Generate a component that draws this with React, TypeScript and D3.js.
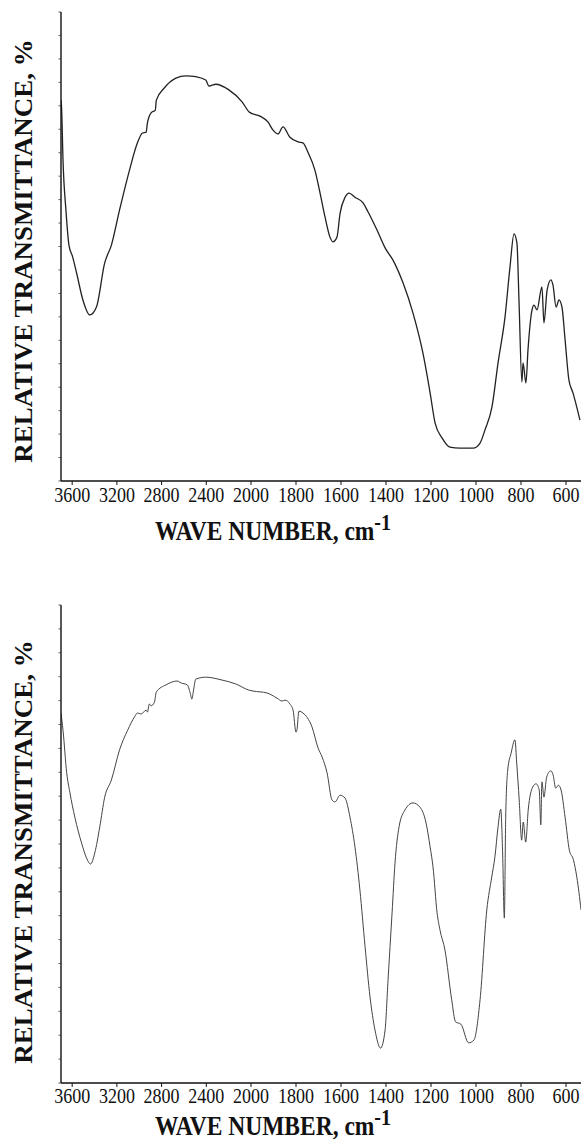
import React from "react";
import * as d3 from "d3";

const tickValues = [3600, 3200, 2800, 2400, 2000, 1800, 1600, 1400, 1200, 1000, 800, 600];

const wave1 = [3700, 3694, 3682, 3656, 3629, 3596, 3560, 3504, 3442, 3383, 3309, 3249, 3176, 3087, 3016, 2971, 2938, 2927, 2894, 2856, 2847, 2776, 2672, 2583, 2494, 2405, 2376, 2349, 2316, 2198, 2082, 2012, 1960, 1924, 1902, 1880, 1858, 1827, 1791, 1769, 1747, 1716, 1693, 1671, 1649, 1636, 1618, 1604, 1582, 1564, 1538, 1502, 1480, 1440, 1404, 1369, 1324, 1280, 1236, 1204, 1182, 1151, 1116, 1072, 1013, 982, 960, 929, 902, 871, 849, 831, 818, 809, 796, 791, 778, 769, 751, 742, 729, 707, 698, 684, 667, 658, 644, 631, 618, 604, 587, 569, 538];
const trans1 = [81.2, 79.1, 68.4, 57.8, 50.3, 47.8, 44.3, 38.6, 35.4, 37.1, 46.5, 50.3, 57.8, 66.3, 72.1, 74.2, 74.4, 76.3, 78.5, 79.1, 81.2, 83.8, 85.9, 86.4, 86.2, 85.5, 84.2, 84.4, 84.6, 83.4, 80.9, 78.6, 77.8, 76.5, 74.8, 74.0, 75.5, 73.3, 72.3, 72.1, 70.1, 66.3, 61.4, 56.3, 52.0, 51.0, 52.0, 57.1, 60.5, 61.4, 60.5, 59.3, 57.4, 53.5, 49.7, 47.1, 42.2, 35.8, 27.3, 18.8, 12.4, 9.2, 7.2, 7.0, 7.0, 8.1, 10.9, 15.8, 25.2, 35.0, 45.6, 52.7, 50.7, 38.6, 21.1, 25.2, 20.9, 27.9, 36.5, 37.5, 36.5, 41.4, 33.7, 40.7, 42.9, 41.8, 37.1, 38.6, 37.1, 30.1, 21.5, 18.8, 13.0];

const wave2 = [3700, 3682, 3649, 3620, 3576, 3516, 3472, 3436, 3398, 3353, 3309, 3249, 3176, 3104, 3042, 3016, 2983, 2938, 2927, 2909, 2894, 2864, 2847, 2760, 2660, 2627, 2571, 2544, 2529, 2518, 2494, 2405, 2260, 2138, 2020, 1991, 1929, 1884, 1862, 1849, 1827, 1813, 1800, 1796, 1787, 1769, 1729, 1702, 1684, 1662, 1640, 1627, 1604, 1582, 1560, 1538, 1516, 1493, 1471, 1449, 1424, 1404, 1391, 1373, 1360, 1342, 1316, 1280, 1249, 1222, 1204, 1191, 1173, 1160, 1138, 1108, 1091, 1067, 1033, 1009, 982, 952, 930, 916, 902, 890, 882, 874, 868, 859, 844, 827, 819, 808, 797, 790, 779, 768, 748, 733, 719, 712, 707, 698, 686, 668, 657, 646, 634, 622, 604, 585, 567, 552, 533];
const trans2 = [77.4, 73.8, 64.9, 60.7, 55.6, 50.2, 47.1, 45.8, 48.1, 53.6, 59.8, 63.4, 69.7, 73.8, 76.6, 77.4, 77.2, 78.0, 77.6, 79.3, 78.9, 79.7, 81.8, 83.3, 84.1, 83.7, 83.3, 81.6, 80.3, 81.6, 84.5, 84.9, 84.3, 83.5, 82.2, 82.0, 81.6, 80.5, 79.9, 80.1, 79.3, 78.0, 73.4, 73.8, 77.8, 77.4, 74.5, 70.1, 68.2, 64.9, 59.2, 58.8, 60.2, 59.6, 55.6, 49.4, 40.4, 28.5, 18.0, 11.1, 7.3, 11.1, 21.5, 35.6, 46.0, 53.6, 57.1, 58.6, 57.7, 54.4, 49.4, 45.2, 35.6, 32.0, 27.8, 17.4, 12.8, 12.3, 8.4, 9.0, 17.4, 36.2, 43.1, 47.3, 53.6, 57.3, 48.7, 34.5, 55.6, 65.5, 69.0, 71.8, 66.9, 59.2, 50.8, 54.6, 50.4, 57.1, 61.9, 62.6, 61.3, 54.0, 63.0, 59.8, 64.0, 65.3, 64.4, 61.7, 62.3, 61.3, 55.6, 48.7, 46.7, 43.1, 36.2];

const yTicks = d3.range(0, 101, 5);

const W = 581;
const H = 1145;
const FONT = "'Liberation Serif', 'Times New Roman', serif";

type PanelProps = {
  top: number;
  bottom: number;
  waves: number[];
  values: number[];
  stroke: string;
  strokeWidth: number;
  xLabelY: number;
  tickLabelY: number;
  yLabelCenter: number;
};

function Panel({ top, bottom, waves, values, stroke, strokeWidth, xLabelY, tickLabelY, yLabelCenter }: PanelProps) {
  const left = 61;
  const x = d3.scaleLinear().domain([3700, 2000, 500]).range([left, 251, 588.5]);
  const y = d3.scaleLinear().domain([0, 100]).range([bottom, top]);
  const pts = waves.map((w, i) => [x(w), y(values[i])] as [number, number]);
  const line = d3.line<[number, number]>().x((d) => d[0]).y((d) => d[1]).curve(d3.curveMonotoneX);
  return (
    <g>
      <defs>
        <clipPath id={`clip${top}`}>
          <rect x={left} y={top - 5} width={W - left} height={bottom - top + 5} />
        </clipPath>
      </defs>
      <path d={line(pts) || ""} fill="none" stroke={stroke} strokeWidth={strokeWidth} clipPath={`url(#clip${top})`} strokeLinejoin="round" />
      <line x1={left} x2={left} y1={top} y2={bottom} stroke="#111" strokeWidth={1.4} />
      <line x1={left} x2={W} y1={bottom} y2={bottom} stroke="#111" strokeWidth={1.4} />
      {yTicks.map((t) => (
        <line key={t} x1={left - 2.5} x2={left} y1={y(t)} y2={y(t)} stroke="#333" strokeWidth={0.8} />
      ))}
      {tickValues.map((t) => (
        <g key={t}>
          <line x1={x(t)} x2={x(t)} y1={bottom} y2={bottom + 4} stroke="#111" strokeWidth={1} />
          <text transform={`translate(${x(t)},${tickLabelY}) scale(0.9,1)`} textAnchor="middle" fontFamily={FONT} fontSize={20} fill="#111">
            {t}
          </text>
        </g>
      ))}
      <text transform={`translate(273,${xLabelY}) scale(0.87,1)`} textAnchor="middle" fontFamily={FONT} fontSize={27} fontWeight="bold" fill="#111">
        WAVE NUMBER, cm
        <tspan fontSize={23} dy={-10}>-1</tspan>
      </text>
      <text
        transform={`translate(32,${yLabelCenter}) rotate(-90) scale(1,0.9)`}
        textAnchor="middle"
        fontFamily={FONT}
        fontSize={27}
        fontWeight="bold"
        fill="#111"
      >
        RELATIVE TRANSMITTANCE, %
      </text>
    </g>
  );
}

export default function App() {
  return (
    <div style={{ position: "absolute", left: 0, top: 0 }}>
      <svg width={W} height={H} viewBox={`0 0 ${W} ${H}`} style={{ display: "block", background: "#fff" }}>
        <rect width={W} height={H} fill="#fff" />
        <Panel top={12} bottom={481} waves={wave1} values={trans1} stroke="#222" strokeWidth={1.3} xLabelY={540} tickLabelY={502} yLabelCenter={251} />
        <Panel top={605} bottom={1083} waves={wave2} values={trans2} stroke="#444" strokeWidth={1} xLabelY={1135} tickLabelY={1103} yLabelCenter={852} />
      </svg>
    </div>
  );
}
